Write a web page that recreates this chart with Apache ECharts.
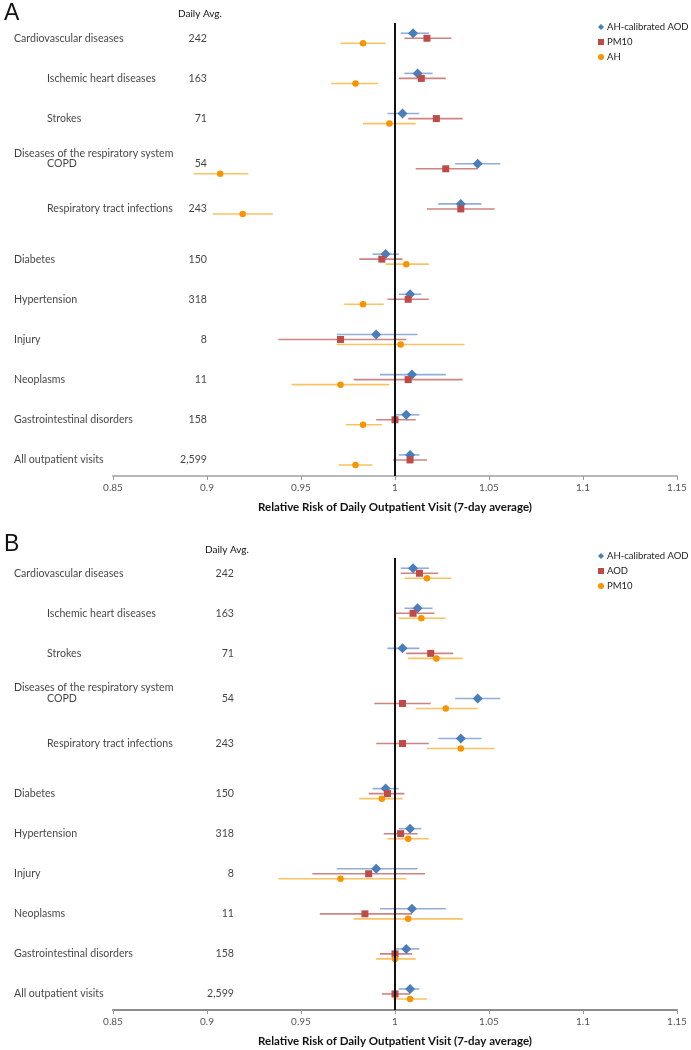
<!DOCTYPE html>
<html>
<head>
<meta charset="utf-8">
<script src="https://cdn.jsdelivr.net/npm/echarts@6/dist/echarts.min.js"></script>
<style>
  html, body { margin: 0; padding: 0; background: #fff; }
  #main { width: 691px; height: 1050px; }
</style>
</head>
<body>
<div id="main"></div>
<script>
// 行标签与每日平均门诊数
const categories = ['Cardiovascular diseases', 'Ischemic heart diseases', 'Strokes', 'COPD',
  'Respiratory tract infections', 'Diabetes', 'Hypertension', 'Injury', 'Neoplasms',
  'Gastrointestinal disorders', 'All outpatient visits'];
const indented = [false, true, true, true, true, false, false, false, false, false, false];
const dailyAvg = ['242', '163', '71', '54', '243', '150', '318', '8', '11', '158', '2,599'];
// 各行在 y 轴上的位置（呼吸系统一组有额外的标题行）
const rowPos = [1, 2, 3, 4.25, 5.25, 6.5, 7.5, 8.5, 9.5, 10.5, 11.5];
const labelPos = [1, 2, 3, 4.13, 5.25, 6.5, 7.5, 8.5, 9.5, 10.5, 11.5];
const groupHeader = { text: 'Diseases of the respiratory system', row: 3.86 };

const xTicks = [0.85, 1.15, 0.05];

// 相对风险 [估计值, 下限, 上限]
const aodCal = [[1.0096, 1.003, 1.018], [1.012, 1.005, 1.020], [1.004, 0.996, 1.013], [1.044, 1.032, 1.056],
  [1.035, 1.023, 1.046], [0.995, 0.988, 1.002], [1.008, 1.002, 1.014], [0.990, 0.969, 1.012],
  [1.009, 0.992, 1.027], [1.006, 1.000, 1.013], [1.008, 1.002, 1.013]];
const pm10 = [[1.017, 1.005, 1.030], [1.014, 1.002, 1.027], [1.022, 1.007, 1.036], [1.027, 1.011, 1.044],
  [1.035, 1.017, 1.053], [0.993, 0.981, 1.004], [1.007, 0.996, 1.018], [0.971, 0.938, 1.006],
  [1.007, 0.978, 1.036], [1.000, 0.990, 1.011], [1.008, 0.999, 1.017]];
const ah = [[0.983, 0.971, 0.995], [0.979, 0.966, 0.991], [0.997, 0.983, 1.011], [0.907, 0.893, 0.922],
  [0.919, 0.903, 0.935], [1.006, 0.995, 1.018], [0.983, 0.973, 0.994], [1.003, 0.969, 1.037],
  [0.971, 0.945, 0.997], [0.983, 0.974, 0.993], [0.979, 0.970, 0.988]];
const aod = [[1.013, 1.003, 1.023], [1.0096, 1.000, 1.021], [1.019, 1.006, 1.031], [1.004, 0.989, 1.019],
  [1.004, 0.990, 1.018], [0.996, 0.986, 1.005], [1.003, 0.994, 1.012], [0.986, 0.956, 1.016],
  [0.984, 0.960, 1.009], [1.000, 0.992, 1.009], [1.000, 0.993, 1.008]];

const FONT = 'Lato';
// 三种标记样式：蓝菱形、红方块、橙圆点
const styles = [
  { symbol: 'diamond', size: 10, color: '#4a7ebb', whisker: '#93aed4', off: -0.125 },
  { symbol: 'rect', size: 7, color: '#be4b48', whisker: '#cc8583', off: 0 },
  { symbol: 'circle', size: 6.5, color: '#f79400', whisker: '#f9c262', off: 0.125 }
];

let myChart = echarts.init(document.getElementById('main'));

function panelSeries(idx, list, dailyRight) {
  let out = [];
  list.forEach(function (item, k) {
    let st = styles[k];
    // 置信区间横线
    out.push({
      type: 'custom',
      name: item.name + ' CI',
      xAxisIndex: idx, yAxisIndex: idx,
      silent: true, z: 2,
      data: item.data.map(function (d, i) { return [d[1], d[2], rowPos[i] + st.off]; }),
      encode: { x: [0, 1], y: 2 },
      renderItem: function (params, api) {
        let p1 = api.coord([api.value(0), api.value(2)]);
        let p2 = api.coord([api.value(1), api.value(2)]);
        return {
          type: 'line',
          shape: { x1: p1[0], y1: p1[1], x2: p2[0], y2: p2[1] },
          style: { stroke: st.whisker, lineWidth: 1.6 }
        };
      }
    });
    out.push({
      type: 'scatter',
      name: item.name,
      xAxisIndex: idx, yAxisIndex: idx,
      symbol: st.symbol, symbolSize: st.size, z: 4,
      itemStyle: { color: st.color, opacity: 1 },
      data: item.data.map(function (d, i) { return [d[0], rowPos[i] + st.off]; })
    });
  });
  // 左侧的文字标签（类别 + 日均数）
  let labelData = categories.map(function (c, i) {
    return {
      value: [xTicks[0], labelPos[i]],
      label: { formatter: c, position: [indented[i] ? -66 : -99, 0] }
    };
  });
  labelData.push({
    value: [xTicks[0], groupHeader.row],
    label: { formatter: groupHeader.text, position: [-99, 0] }
  });
  dailyAvg.forEach(function (n, i) {
    labelData.push({
      value: [xTicks[0], labelPos[i]],
      label: { formatter: n, position: [dailyRight, 0], align: 'right' }
    });
  });
  out.push({
    type: 'scatter',
    name: 'labels' + idx,
    xAxisIndex: idx, yAxisIndex: idx,
    symbolSize: 0, silent: true, clip: false,
    label: { show: true, align: 'left', verticalAlign: 'middle', fontFamily: FONT, fontSize: 10.6, color: '#111' },
    data: labelData
  });
  // x = 1 的竖线
  out.push({
    type: 'line',
    name: 'ref' + idx,
    xAxisIndex: idx, yAxisIndex: idx,
    data: [], z: 3,
    markLine: {
      silent: true, symbol: 'none', animation: false,
      label: { show: false },
      lineStyle: { color: '#111', width: 2, type: 'solid' },
      data: [{ xAxis: 1 }]
    }
  });
  return out;
}

function xAxisCfg(idx) {
  return {
    type: 'value', gridIndex: idx,
    min: xTicks[0], max: xTicks[1], interval: xTicks[2],
    splitLine: { show: false },
    axisLine: { lineStyle: { color: idx === 0 ? '#b8b8b8' : '#8c8c8c', width: 2 } },
    axisTick: { show: true, length: 4, lineStyle: { color: '#999' } },
    axisLabel: { fontFamily: FONT, fontSize: 10, color: '#555', margin: 7 },
    name: 'Relative Risk of Daily Outpatient Visit (7-day average)',
    nameLocation: 'middle', nameGap: 25,
    nameTextStyle: { fontFamily: FONT, fontSize: 11.5, fontWeight: 'bold', color: '#111' }
  };
}

function yAxisCfg(idx) {
  return { type: 'value', gridIndex: idx, inverse: true, min: 0.62, max: 11.9, show: false };
}

function legendCfg(top, names) {
  return {
    orient: 'vertical', left: 593, top: top,
    itemWidth: 6, itemHeight: 6, itemGap: 5,
    textStyle: { fontFamily: FONT, fontSize: 9.5, color: '#222', padding: [0, 0, 0, -2] },
    data: names.map(function (n, k) {
      return { name: n, icon: styles[k].symbol, itemStyle: { color: styles[k].color } };
    })
  };
}

let chartOptions = {
  animation: false,
  grid: [
    { left: 113, right: 14, top: 23, height: 453 },
    { left: 113, right: 14, top: 558, height: 452 }
  ],
  xAxis: [xAxisCfg(0), xAxisCfg(1)],
  yAxis: [yAxisCfg(0), yAxisCfg(1)],
  legend: [
    legendCfg(17, ['AH-calibrated AOD', 'PM10', 'AH']),
    legendCfg(546, ['AH-calibrated AOD', 'AOD', 'PM10 '])
  ],
  graphic: [
    { type: 'text', left: 4, top: 2, style: { text: 'A', fontFamily: 'Liberation Sans', fontSize: 23, fill: '#111' } },
    { type: 'text', left: 4, top: 533, style: { text: 'B', fontFamily: 'Liberation Sans', fontSize: 23, fill: '#111' } },
    { type: 'text', left: 178, top: 9, style: { text: 'Daily Avg.', fontFamily: FONT, fontSize: 10, fill: '#111' } },
    { type: 'text', left: 205, top: 545, style: { text: 'Daily Avg.', fontFamily: FONT, fontSize: 10, fill: '#111' } }
  ],
  series: [].concat(
    panelSeries(0, [
      { name: 'AH-calibrated AOD', data: aodCal },
      { name: 'PM10', data: pm10 },
      { name: 'AH', data: ah }
    ], 94),
    panelSeries(1, [
      { name: 'AH-calibrated AOD', data: aodCal },
      { name: 'AOD', data: aod },
      { name: 'PM10 ', data: pm10 }
    ], 121)
  )
};

myChart.setOption(chartOptions, true);
window.addEventListener('resize', myChart.resize);
</script>
</body>
</html>
